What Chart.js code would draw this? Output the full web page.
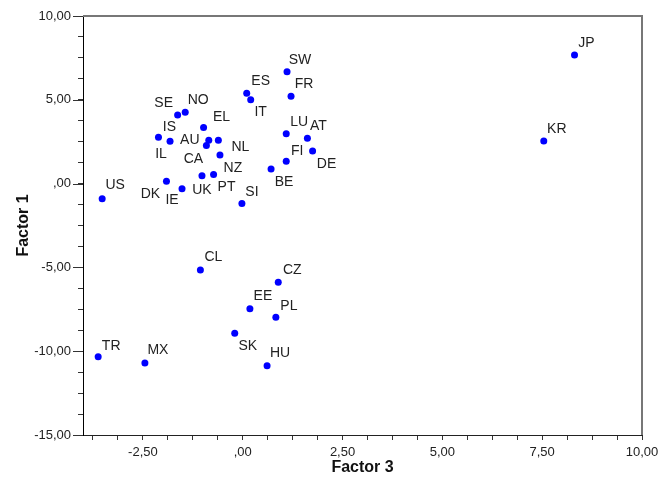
<!DOCTYPE html>
<html>
<head>
<meta charset="utf-8">
<script src="https://cdn.jsdelivr.net/npm/chart.js@4"></script>
<style>
  html, body { margin: 0; padding: 0; background: #fff; }
  #wrap { width: 671px; height: 483px; }
</style>
</head>
<body>
<div id="wrap"><canvas id="chart" width="671" height="483"></canvas></div>
<script>
const COUNTRIES = ['SW', 'FR', 'ES', 'IT', 'SE', 'NO', 'EL', 'IS', 'IL', 'AU', 'CA', 'NL', 'NZ', 'UK', 'PT', 'SI', 'BE',
                   'FI', 'LU', 'AT', 'DE', 'US', 'DK', 'IE', 'JP', 'KR', 'CL', 'CZ', 'EE', 'PL', 'SK', 'HU', 'TR', 'MX'];
const FACTOR3 = [1.11, 1.21, 0.10, 0.20, -1.63, -1.44, -0.98, -2.11, -1.82, -0.85, -0.91, -0.61, -0.57, -1.02, -0.73, -0.02, 0.71,
                 1.09, 1.09, 1.62, 1.75, -3.52, -1.91, -1.52, 8.31, 7.54, -1.06, 0.89, 0.18, 0.83, -0.20, 0.61, -3.62, -2.45];
const FACTOR1 = [6.68, 5.21, 5.39, 5.01, 4.09, 4.25, 3.34, 2.76, 2.52, 2.58, 2.28, 2.58, 1.71, 0.47, 0.55, -1.18, 0.87,
                 1.33, 2.98, 2.70, 1.95, -0.90, 0.14, -0.30, 7.67, 2.54, -5.16, -5.89, -7.46, -7.98, -8.93, -10.87, -10.33, -10.70];

const X_LABELED = [-2.5, 0, 2.5, 5, 7.5, 10];
const Y_LABELED = [-15, -10, -5, 0, 5, 10];

// where each country code sits relative to its dot (px)
const LABEL_OFFSET = {
  SW: [13, -12], FR: [13, -12], ES: [14, -12], IT: [10, 13], SE: [-14, -12], NO: [13, -12],
  EL: [18, -10], IS: [11, -10], IL: [-9, 13], AU: [-19, 0], CA: [-13, 14], NL: [22, 7],
  NZ: [13, 13], UK: [0, 14], PT: [13, 13], SI: [10, -11], BE: [13, 13], FI: [11, -10],
  LU: [13, -12], AT: [11, -12], DE: [14, 13], US: [13, -14], DK: [-16, 13], IE: [-10, 12],
  JP: [12, -12], KR: [13, -12], CL: [13, -13], CZ: [14, -12], EE: [13, -12], PL: [13, -11],
  SK: [13, 13], HU: [13, -13], TR: [13, -11], MX: [13, -13],
};

const FONT = 'Arial, "Liberation Sans", sans-serif';

function fmt(v) {
  let s = Math.abs(v).toFixed(2).replace('.', ',');
  if (s.startsWith('0,')) s = s.slice(1);
  return (v < 0 ? '-' : '') + s;
}

function isLabeled(list, v) {
  return list.some((t) => Math.abs(t - v) < 1e-6);
}

const pointLabels = {
  id: 'pointLabels',
  afterDatasetsDraw(chart) {
    const ctx = chart.ctx;
    const meta = chart.getDatasetMeta(0);
    ctx.save();
    ctx.font = '14px ' + FONT;
    ctx.fillStyle = '#222';
    ctx.textAlign = 'center';
    ctx.textBaseline = 'middle';
    meta.data.forEach((pt, i) => {
      const off = LABEL_OFFSET[COUNTRIES[i]] || [12, -12];
      ctx.fillText(COUNTRIES[i], pt.x + off[0], pt.y + off[1]);
    });
    ctx.restore();
  },
};

// gray frame on top/right, longer marks for the labelled y ticks
const frame = {
  id: 'frame',
  afterDraw(chart) {
    const { left, top, right, bottom } = chart.chartArea;
    const ctx = chart.ctx;
    const y = chart.scales.y;
    ctx.save();
    ctx.strokeStyle = '#333';
    ctx.lineWidth = 1;
    Y_LABELED.forEach((v) => {
      const py = Math.round(y.getPixelForValue(v)) + 0.5;
      ctx.beginPath();
      ctx.moveTo(left - 10, py);
      ctx.lineTo(left, py);
      ctx.stroke();
    });
    ctx.strokeStyle = '#777';
    ctx.lineWidth = 2;
    ctx.beginPath();
    ctx.moveTo(left, top);
    ctx.lineTo(right, top);
    ctx.lineTo(right, bottom);
    ctx.stroke();
    ctx.restore();
  },
};

new Chart(document.getElementById('chart').getContext('2d'), {
  type: 'scatter',
  data: {
    datasets: [{
      data: FACTOR3.map((x, i) => ({ x, y: FACTOR1[i] })),
      backgroundColor: '#0000ff',
      borderWidth: 0,
      pointRadius: 3.5,
    }],
  },
  options: {
    responsive: false,
    animation: false,
    layout: { padding: { top: 16, right: 29, left: 0, bottom: 0 } },
    plugins: { legend: { display: false }, tooltip: { enabled: false } },
    scales: {
      x: {
        type: 'linear',
        min: -4,
        max: 10,
        afterFit: (s) => { s.height = 48; },
        afterBuildTicks: (s) => {
          const t = [];
          for (let i = -6; i <= 16; i++) t.push({ value: i * 0.625 });
          s.ticks = t;
        },
        grid: { drawOnChartArea: false, tickLength: 5, tickColor: '#333' },
        border: { color: '#222', width: 1 },
        ticks: {
          autoSkip: false,
          maxRotation: 0,
          padding: 5,
          color: '#222',
          font: { family: FONT, size: 13 },
          callback: (v) => (isLabeled(X_LABELED, v) ? fmt(v) : ''),
        },
        title: {
          display: true,
          text: 'Factor 3',
          color: '#111',
          font: { family: FONT, size: 16, weight: 'bold' },
          padding: { top: 0, bottom: 6 },
        },
      },
      y: {
        type: 'linear',
        min: -15,
        max: 10,
        afterFit: (s) => { s.width = 83; },
        afterBuildTicks: (s) => {
          const t = [];
          for (let i = -12; i <= 8; i++) t.push({ value: i * 1.25 });
          s.ticks = t;
        },
        grid: { drawOnChartArea: false, tickLength: 5, tickColor: '#333' },
        border: { color: '#000', width: 1 },
        ticks: {
          autoSkip: false,
          padding: 7,
          color: '#222',
          font: { family: FONT, size: 13 },
          callback: (v) => (isLabeled(Y_LABELED, v) ? fmt(v) : ''),
        },
        title: {
          display: true,
          text: 'Factor 1',
          color: '#111',
          font: { family: FONT, size: 16, weight: 'bold' },
          padding: { top: 14, bottom: 0 },
        },
      },
    },
  },
  plugins: [pointLabels, frame],
});
</script>
</body>
</html>
